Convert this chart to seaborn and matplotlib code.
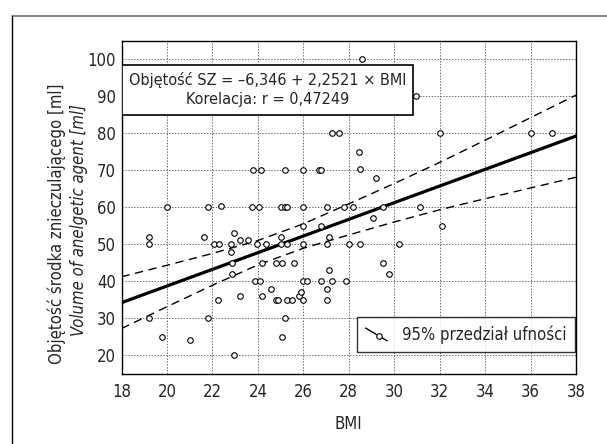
import matplotlib
matplotlib.use("Agg")
import matplotlib.pyplot as plt
from matplotlib.lines import Line2D
from matplotlib.patches import Rectangle
from matplotlib.legend_handler import HandlerBase
from matplotlib import font_manager
from matplotlib.font_manager import FontProperties
import os
import numpy as np
import pandas as pd
import seaborn as sns

# ---------------- data ----------------
bmi = [19.22, 19.22, 19.2, 20.0, 19.8, 21.0, 21.8, 21.65, 21.8, 22.06,
       22.28, 22.38, 22.25, 22.8, 22.8, 22.97, 22.88, 22.88, 22.97, 23.2,
       23.2, 23.56, 23.75, 24.04, 23.98, 23.86, 24.1, 24.18, 24.18, 24.37,
       24.58, 24.79, 24.79, 24.9, 25.0, 25.0, 25.07, 25.0, 25.2, 25.3,
       25.2, 25.07, 25.3, 25.3, 25.5, 25.6, 25.8, 25.9, 26.0, 26.0,
       26.15, 26.0, 26.0, 26.0, 26.8, 26.8, 27.05, 27.05, 27.05, 27.05,
       27.15, 27.15, 27.25, 27.77, 27.9, 28.0, 23.8, 24.13, 25.2, 26.0,
       26.7, 26.8, 27.25, 27.55, 28.6, 30.95, 32.0, 36.0, 36.93, 28.47,
       28.5, 29.2, 28.2, 29.5, 31.15, 29.07, 32.1, 28.5, 30.2, 29.5,
       29.75]
volume = [52, 50, 30, 60, 25, 24, 60, 52, 30, 50,
          50, 60.2, 35, 50, 48, 53, 45, 42, 20, 51,
          36, 51, 60, 60, 50, 40, 40, 45, 36, 50,
          38, 45, 35, 35, 52, 50, 45, 60, 60, 60,
          30, 25, 50, 35, 35, 45, 36, 37, 35, 40,
          40, 55, 50, 60, 40, 55, 60, 35, 38, 50,
          52, 43, 40, 60, 40, 50, 70, 70, 70, 70,
          70, 70, 80, 80, 100, 90, 80, 80, 80, 75,
          70.3, 68, 60, 60, 60, 57, 55, 50, 50, 45,
          42]

intercept = -6.346
slope = 2.2521

band_x = [18, 20, 22, 24, 26, 28, 30, 32, 34, 36, 38]
ci_upper = [41.2, 44.3, 47.5, 51.0, 55.5, 60.9, 66.4, 72.1, 78.1, 84.2, 90.3]
ci_lower = [27.2, 33.1, 38.9, 44.4, 48.9, 52.5, 56.0, 59.3, 62.3, 65.2, 68.1]

x_ticks = [18, 20, 22, 24, 26, 28, 30, 32, 34, 36, 38]
y_ticks = [20, 30, 40, 50, 60, 70, 80, 90, 100]

eq_line1 = "Objętość SZ = \u20136,346 + 2,2521 \u00d7 BMI"
eq_line2 = "Korelacja: r = 0,47249"
ylabel1 = "Objętość środka znieczulającego [ml]"
ylabel2 = "Volume of anelgetic agent [ml]"
xlabel = "BMI"
legend_label = "95% przedział ufności"

# ---------------- fonts: look for a condensed face ----------------
sns.set_style("white")
FS = 12
FS_BOX = 11.6


def find_font(italic):
    files = [f.fname for f in font_manager.fontManager.ttflist]
    files += font_manager.findSystemFonts()
    files = sorted(set(files))
    prefs = ["liberationsansnarrow", "dejavusanscondensed", "robotocondensed",
             "notosanscondensed", "opensanscondensed", "opensans_condensed",
             "condensed", "narrow"]
    for p in prefs:
        for fn in files:
            b = os.path.basename(fn).lower().replace("-", "").replace(" ", "")
            if p not in b:
                continue
            is_bold = "bold" in b or "black" in b or "semibold" in b or "light" in b \
                or "medium" in b or "thin" in b
            is_it = "italic" in b or "oblique" in b
            if is_bold:
                continue
            if is_it == italic:
                return fn
    return None


reg_file = find_font(False)
it_file = find_font(True)
if reg_file:
    FP = FontProperties(fname=reg_file, size=FS)
else:
    FP = FontProperties(family="DejaVu Sans", size=FS)
if it_file:
    FPI = FontProperties(fname=it_file, size=FS)
else:
    FPI = FP.copy()
    FPI.set_style("italic")
FPB = FP.copy()
FPB.set_size(FS_BOX)

fig = plt.figure(figsize=(6.07, 4.44), dpi=100)
ax = fig.add_axes([121.5 / 607, 1 - 373.7 / 444, 454.5 / 607, 333 / 444])

df = pd.DataFrame({"bmi": bmi, "volume": volume})
fit_df = pd.DataFrame({"x": band_x, "y": [intercept + slope * v for v in band_x]})
band_df = pd.DataFrame({"x": band_x, "up": ci_upper, "lo": ci_lower})

sns.lineplot(data=band_df, x="x", y="up", ax=ax, color="black", lw=1.0,
             linestyle=(0, (6, 4)), zorder=3)
sns.lineplot(data=band_df, x="x", y="lo", ax=ax, color="black", lw=1.0,
             linestyle=(0, (6, 4)), zorder=3)
sns.lineplot(data=fit_df, x="x", y="y", ax=ax, color="black", lw=2.3, zorder=4)
sns.scatterplot(data=df, x="bmi", y="volume", ax=ax, marker="o", s=16,
                facecolor="white", edgecolor="black", linewidth=0.8, zorder=5)

ax.set_xlim(18, 38)
ax.set_ylim(15, 105)
ax.set_xticks(x_ticks)
ax.set_yticks(y_ticks)
ax.set_xticklabels([str(t) for t in x_ticks], fontproperties=FP)
ax.set_yticklabels([str(t) for t in y_ticks], fontproperties=FP)
ax.tick_params(axis="both", length=0, pad=4)
ax.tick_params(axis="x", pad=7)
ax.grid(True, color="#707070", linestyle=(0, (1.5, 1.5)), lw=0.7)
ax.set_axisbelow(True)
for sp in ax.spines.values():
    sp.set_color("black")
    sp.set_linewidth(1.0)

ax.set_xlabel(xlabel, fontproperties=FP, labelpad=10)
ax.set_ylabel("")

# rotated two-line y label
fig.text(57 / 607, 1 - 224 / 444, ylabel1, rotation=90, ha="center", va="center",
         fontproperties=FP)
fig.text(79 / 607, 1 - 220 / 444, ylabel2, rotation=90, ha="center", va="center",
         fontproperties=FPI)

# equation box
ax.add_patch(Rectangle((0.0, 0.777), 0.641, 0.150, transform=ax.transAxes,
                       facecolor="white", edgecolor="black", lw=1.2, zorder=6))
ax.text(0.322, 0.882, eq_line1, transform=ax.transAxes, ha="center", va="center",
        fontproperties=FPB, zorder=7)
ax.text(0.322, 0.822, eq_line2, transform=ax.transAxes, ha="center", va="center",
        fontproperties=FPB, zorder=7)


class DiagHandler(HandlerBase):
    def create_artists(self, legend, orig_handle, xdescent, ydescent, width,
                       height, fontsize, trans):
        x0, y0 = -xdescent, -ydescent
        ln = Line2D([x0, x0 + width], [y0 + height * 1.0, y0 - height * 0.1],
                    color="black", lw=1.0, transform=trans)
        mk = Line2D([x0 + width * 0.6], [y0 + height * 0.35], marker="o",
                    markersize=4, markerfacecolor="white",
                    markeredgecolor="black", markeredgewidth=0.8,
                    linestyle="none", transform=trans)
        return [ln, mk]


handle = Line2D([], [], color="black")
leg = ax.legend([handle], [legend_label], handler_map={Line2D: DiagHandler()},
                loc="lower right", bbox_to_anchor=(0.998, 0.065),
                borderaxespad=0, prop=FP, frameon=True, fancybox=False,
                handlelength=1.3, handletextpad=0.9, borderpad=0.5)
leg.get_frame().set_edgecolor("black")
leg.get_frame().set_linewidth(1.0)
leg.set_zorder(8)

# outer figure frame (top and left)
fig.add_artist(Line2D([12.5 / 607, 1], [1 - 16 / 444, 1 - 16 / 444],
                      color="#707070", lw=1.2, transform=fig.transFigure))
fig.add_artist(Line2D([12.5 / 607, 12.5 / 607], [0, 1 - 16 / 444],
                      color="black", lw=1.0, transform=fig.transFigure))

fig.savefig("out.png", dpi=100)
